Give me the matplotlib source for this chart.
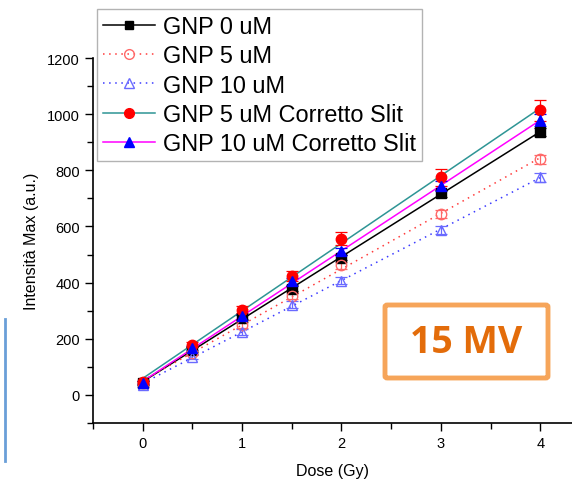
import numpy as np
import matplotlib
matplotlib.use("Agg")
import matplotlib.pyplot as plt
from matplotlib.lines import Line2D
from matplotlib.patches import FancyBboxPatch

plt.rcParams['font.family'] = ['Liberation Sans', 'DejaVu Sans']

# dose points (Gy)
dose = [0, 0.5, 1, 1.5, 2, 3, 4]

# max intensity (a.u.) per series
gnp0 = [43, 161, 275, 379, 489, 718, 936]
gnp5 = [42, 150, 250, 354, 461, 643, 839]
gnp10 = [36, 136, 225, 321, 407, 586, 775]
gnp5_slit = [45, 179, 304, 425, 557, 775, 1014]
gnp10_slit = [44, 168, 280, 404, 511, 743, 979]

err0 = [6, 8, 8, 10, 10, 12, 14]
err5 = [6, 8, 10, 12, 12, 14, 16]
err10 = [6, 8, 10, 12, 12, 14, 16]
err5_slit = [6, 10, 12, 18, 24, 30, 38]
err10_slit = [6, 8, 10, 12, 14, 18, 22]

labels = ["GNP 0 uM", "GNP 5 uM", "GNP 10 uM",
          "GNP 5 uM Corretto Slit", "GNP 10 uM Corretto Slit"]

series = [
    # values, errors, marker, marker face, marker edge, line colour, line style
    (gnp0, err0, 's', 'black', 'black', 'black', '-'),
    (gnp5, err5, 'o', 'none', '#ff6868', '#ff3a3a', (0, (1, 3))),
    (gnp10, err10, '^', 'none', '#6a6aff', '#3a3aff', (0, (1, 3))),
    (gnp5_slit, err5_slit, 'o', 'red', 'red', '#2e9595', '-'),
    (gnp10_slit, err10_slit, '^', 'blue', 'blue', 'magenta', '-'),
]

fig = plt.figure(figsize=(5.72, 4.81), dpi=100)
ax = fig.add_axes([93 / 572, 57 / 481, 1 - 93 / 572, 365 / 481])

x = np.array(dose, dtype=float)
xfit = np.array([0.0, 4.0])
handles = []
for vals, errs, mk, mfc, mec, lc, ls in series:
    y = np.array(vals, dtype=float)
    # linear fit through the points
    p = np.polyfit(x, y, 1)
    ax.plot(xfit, np.polyval(p, xfit), color=lc, linestyle=ls, lw=1.1, zorder=2)
    ax.errorbar(x, y, yerr=errs, fmt=mk, ms=7.5 if mk != 's' else 6.5,
                mfc=mfc, mec=mec, ecolor=mec, elinewidth=0.9, capsize=4,
                capthick=0.9, zorder=3)
    handles.append(Line2D([], [], color=lc, linestyle=ls, lw=1.1, marker=mk,
                          ms=7 if mk != 's' else 6, mfc=mfc, mec=mec))

ax.set_xlim(-0.5, 4.32)
ax.set_ylim(-100, 1200)
ax.set_xticks([0, 1, 2, 3, 4])
ax.set_xticks([-0.5, 0.5, 1.5, 2.5, 3.5], minor=True)
ax.set_yticks([0, 200, 400, 600, 800, 1000, 1200])
ax.set_yticks([-100, 100, 300, 500, 700, 900, 1100], minor=True)
ax.tick_params(which='major', direction='out', length=6, width=1, labelsize=10.5)
ax.tick_params(which='minor', direction='out', length=4, width=1)
for s in ('top', 'right'):
    ax.spines[s].set_visible(False)
ax.spines['left'].set_linewidth(1.2)
ax.spines['bottom'].set_linewidth(1.2)
ax.set_xlabel("Dose (Gy)", fontsize=11.5, labelpad=9)
ax.set_ylabel("Intensità Max (a.u.)", fontsize=11.5, labelpad=6)

leg = fig.legend(handles, labels, loc='upper left',
                 bbox_to_anchor=(97 / 572, 1 - 10 / 481),
                 fontsize=16.9, handlelength=2.2, handletextpad=0.35,
                 labelspacing=0.27, borderpad=0.25, borderaxespad=0,
                 frameon=True, fancybox=False)
leg.get_frame().set_edgecolor('#a0a0a0')
leg.get_frame().set_linewidth(1.0)

# energy label box
box = FancyBboxPatch((385 / 572, 1 - 379 / 481), 163 / 572, 73 / 481,
                     boxstyle="round,pad=0,rounding_size=0.004",
                     transform=fig.transFigure, fill=False,
                     edgecolor='#f6a55a', linewidth=3.5)
fig.add_artist(box)
fig.text(466 / 572, 1 - 343 / 481, "15 MV", color='#e36c0a', fontsize=27,
         fontweight='bold', family=['Open Sans', 'DejaVu Sans'],
         ha='center', va='center')

# slide edge line
fig.add_artist(Line2D([4.5 / 572, 4.5 / 572], [1 - 320 / 481, 1 - 462 / 481],
                      transform=fig.transFigure, color='#6a9fd8', lw=2))

fig.savefig("out.png", dpi=100)
